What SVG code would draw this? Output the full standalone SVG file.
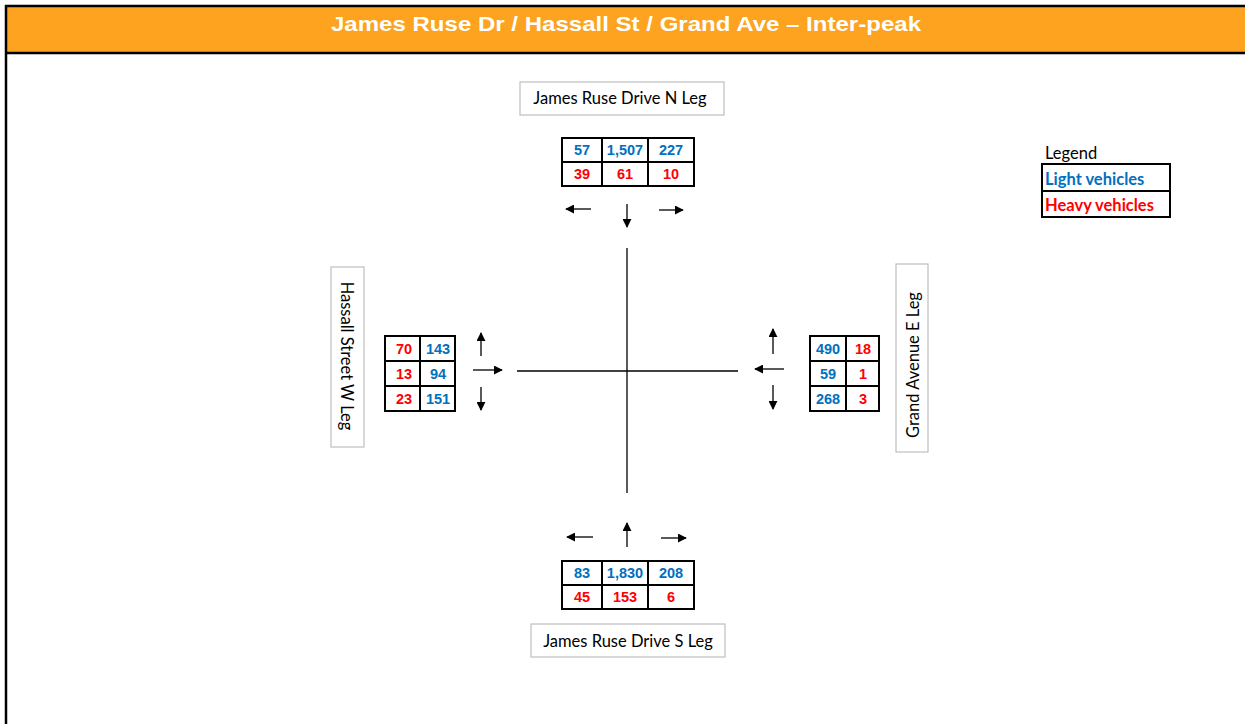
<svg xmlns="http://www.w3.org/2000/svg" width="1245" height="724" viewBox="0 0 1245 724">
<defs>
<style>
.num{font-family:"Liberation Sans",Arial,sans-serif;font-weight:bold;font-size:14.5px;text-anchor:middle}
.lv{fill:#0070C0}
.hv{fill:#FF0000}
.cell{fill:#fff;stroke:#000;stroke-width:2}
.lbl{fill:#fff;stroke:#BFBFBF;stroke-width:1.2}
.lt{font-family:Lato,"Open Sans",sans-serif;font-size:16.5px;fill:#000;text-anchor:middle}
.lg{font-family:Lato,"Open Sans",sans-serif;font-size:16.5px}
.arr{stroke:#000;stroke-width:1.3;fill:none;marker-end:url(#ah)}
.road{stroke:#000;stroke-width:1.3}
</style>
<marker id="ah" viewBox="0 0 10 10" refX="9" refY="5" markerWidth="9" markerHeight="9" markerUnits="userSpaceOnUse" orient="auto">
<path d="M0,0 L10,5 L0,10 z" fill="#000"/>
</marker>
</defs>
<rect x="0" y="0" width="1245" height="724" fill="#fff"/>
<g id="header">
<rect x="6" y="6" width="1239" height="47" fill="#FDA31F"/>
<line x1="5" y1="6" x2="1245" y2="6" stroke="#000" stroke-width="2.5"/>
<line x1="5" y1="53" x2="1245" y2="53" stroke="#000" stroke-width="2.5"/>
<line x1="6" y1="5" x2="6" y2="724" stroke="#000" stroke-width="2.5"/>
<text x="331" y="31" font-family="Liberation Sans,Arial,sans-serif" font-weight="bold" font-size="21" fill="#fff" textLength="590" lengthAdjust="spacingAndGlyphs">James Ruse Dr / Hassall St / Grand Ave – Inter-peak</text>
</g>
<g id="connectors">
<line class="road" x1="627" y1="248" x2="627" y2="493"/>
<line class="road" x1="517" y1="371" x2="738" y2="371"/>
</g>
<g id="north">
<rect class="lbl" x="520" y="82" width="204" height="33"/>
<text class="lt" x="620" y="104">James Ruse Drive N Leg</text>
<rect class="cell" x="562" y="138" width="40" height="24"/>
<rect class="cell" x="602" y="138" width="46" height="24"/>
<rect class="cell" x="648" y="138" width="46" height="24"/>
<rect class="cell" x="562" y="162" width="40" height="24"/>
<rect class="cell" x="602" y="162" width="46" height="24"/>
<rect class="cell" x="648" y="162" width="46" height="24"/>
<text class="num lv" x="582" y="155">57</text>
<text class="num lv" x="625" y="155">1,507</text>
<text class="num lv" x="671" y="155">227</text>
<text class="num hv" x="582" y="179">39</text>
<text class="num hv" x="625" y="179">61</text>
<text class="num hv" x="671" y="179">10</text>
<line class="arr" x1="591" y1="209" x2="566" y2="209"/>
<line class="arr" x1="627" y1="204" x2="627" y2="227"/>
<line class="arr" x1="659" y1="210" x2="683" y2="210"/>
</g>
<g id="west">
<rect class="lbl" x="331" y="267" width="33" height="180"/>
<text class="lt" transform="translate(341,356) rotate(90)" x="0" y="0">Hassall Street W Leg</text>
<rect class="cell" x="385" y="336" width="35" height="25"/>
<rect class="cell" x="420" y="336" width="35" height="25"/>
<rect class="cell" x="385" y="361" width="35" height="25"/>
<rect class="cell" x="420" y="361" width="35" height="25"/>
<rect class="cell" x="385" y="386" width="35" height="25"/>
<rect class="cell" x="420" y="386" width="35" height="25"/>
<text class="num hv" x="404" y="354">70</text>
<text class="num lv" x="438" y="354">143</text>
<text class="num hv" x="404" y="379">13</text>
<text class="num lv" x="438" y="379">94</text>
<text class="num hv" x="404" y="404">23</text>
<text class="num lv" x="438" y="404">151</text>
<line class="arr" x1="481" y1="356" x2="481" y2="333"/>
<line class="arr" x1="473" y1="370" x2="502" y2="370"/>
<line class="arr" x1="481" y1="387" x2="481" y2="410"/>
</g>
<g id="east">
<rect class="lbl" x="896" y="264" width="32" height="188"/>
<text class="lt" transform="translate(919,365) rotate(-90)" x="0" y="0">Grand Avenue E Leg</text>
<rect class="cell" x="810" y="336" width="36" height="25"/>
<rect class="cell" x="846" y="336" width="33" height="25"/>
<rect class="cell" x="810" y="361" width="36" height="25"/>
<rect class="cell" x="846" y="361" width="33" height="25"/>
<rect class="cell" x="810" y="386" width="36" height="25"/>
<rect class="cell" x="846" y="386" width="33" height="25"/>
<text class="num lv" x="828" y="354">490</text>
<text class="num hv" x="863" y="354">18</text>
<text class="num lv" x="828" y="379">59</text>
<text class="num hv" x="863" y="379">1</text>
<text class="num lv" x="828" y="404">268</text>
<text class="num hv" x="863" y="404">3</text>
<line class="arr" x1="773" y1="354" x2="773" y2="329"/>
<line class="arr" x1="784" y1="369" x2="755" y2="369"/>
<line class="arr" x1="773" y1="385" x2="773" y2="409"/>
</g>
<g id="south">
<line class="arr" x1="593" y1="537" x2="567" y2="537"/>
<line class="arr" x1="627" y1="547" x2="627" y2="523"/>
<line class="arr" x1="661" y1="538" x2="686" y2="538"/>
<rect class="cell" x="562" y="561" width="40" height="24"/>
<rect class="cell" x="602" y="561" width="46" height="24"/>
<rect class="cell" x="648" y="561" width="46" height="24"/>
<rect class="cell" x="562" y="585" width="40" height="24"/>
<rect class="cell" x="602" y="585" width="46" height="24"/>
<rect class="cell" x="648" y="585" width="46" height="24"/>
<text class="num lv" x="582" y="578">83</text>
<text class="num lv" x="625" y="578">1,830</text>
<text class="num lv" x="671" y="578">208</text>
<text class="num hv" x="582" y="602">45</text>
<text class="num hv" x="625" y="602">153</text>
<text class="num hv" x="671" y="602">6</text>
<rect class="lbl" x="531" y="624" width="194" height="33"/>
<text class="lt" x="628" y="647">James Ruse Drive S Leg</text>
</g>
<g id="legend">
<text class="lg" x="1045" y="159" fill="#000">Legend</text>
<rect class="cell" x="1042" y="164" width="128" height="27"/>
<rect class="cell" x="1042" y="191" width="128" height="26"/>
<text class="lg lv" x="1045" y="185" font-weight="bold">Light vehicles</text>
<text class="lg hv" x="1045" y="211" font-weight="bold">Heavy vehicles</text>
</g>
</svg>
